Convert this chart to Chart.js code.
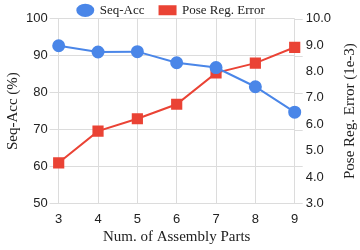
<!DOCTYPE html>
<html><head><meta charset="utf-8">
<script src="https://cdn.jsdelivr.net/npm/chart.js@4/dist/chart.umd.min.js"></script>
<style>html,body{margin:0;padding:0;background:#fff}#w{width:360px;height:250px}</style>
</head><body><div id="w"><canvas id="c"></canvas></div>
<script>
const parts = [3, 4, 5, 6, 7, 8, 9];
const seqAcc = [92.7, 91.0, 91.1, 88.1, 86.8, 81.6, 74.7];
const poseErr = [4.54, 5.74, 6.21, 6.76, 7.95, 8.32, 8.92];
const leftTicks = [50, 60, 70, 80, 90, 100];
const rightTicks = [3, 4, 5, 6, 7, 8, 9, 10];
const rightTitle = 'Pose Reg. Error (1e-3)';
const BLUE = '#4a86e8', RED = '#ea4335', GRID = '#dcdcdc';
const serif = "'Liberation Serif', serif";
const sans = "'Liberation Sans', Arial, sans-serif";
const rightTitlePlugin = {
  id: 'rightTitle',
  beforeDatasetsDraw(chart) {
    // left-axis gridlines continue a little past the right edge of the plot
    const ctx = chart.ctx, a = chart.chartArea, y = chart.scales.y;
    ctx.save();
    ctx.strokeStyle = GRID; ctx.lineWidth = 1;
    y.ticks.forEach(t => {
      const py = Math.round(y.getPixelForValue(t.value)) + 0.5;
      ctx.beginPath(); ctx.moveTo(a.right, py); ctx.lineTo(a.right + 8, py); ctx.stroke();
    });
    ctx.restore();
  },
  afterDraw(chart) {
    const ctx = chart.ctx, a = chart.chartArea;
    ctx.save();
    ctx.translate(chart.width - 10, (a.top + a.bottom) / 2);
    ctx.rotate(-Math.PI / 2);
    ctx.textAlign = 'center';
    ctx.textBaseline = 'middle';
    ctx.fillStyle = '#222';
    ctx.font = "15px 'Liberation Serif', serif";
    ctx.fillText(rightTitle, 0, 0);
    ctx.restore();
  }
};
// legend overlays the top margin (does not push the plot area down)
const legendOverlay = {
  id: 'legendOverlay',
  afterLayout(chart) {
    const lg = chart.legend;
    if (lg) { lg.top -= 13; lg.bottom -= 13; }
  }
};
const chart = new Chart(document.getElementById('c'), {
  type: 'line',
  data: {
    labels: parts,
    datasets: [
      {label: 'Seq-Acc', data: seqAcc, yAxisID: 'y', borderColor: BLUE, backgroundColor: BLUE,
       pointStyle: 'circle', pointRadius: 5.5, borderWidth: 2},
      {label: 'Pose Reg. Error', data: poseErr, yAxisID: 'y1', borderColor: RED, backgroundColor: RED,
       pointStyle: 'rect', pointRadius: 6.5, borderWidth: 2}
    ]
  },
  plugins: [rightTitlePlugin, legendOverlay],
  options: {
    responsive: true, maintainAspectRatio: false, animation: false,
    layout: {padding: {top: 0, right: 18, left: 0, bottom: 0}},
    plugins: {
      legend: {position: 'top', labels: {usePointStyle: true, pointStyleWidth: 16, boxWidth: 8, boxHeight: 8, padding: 15,
        color: '#222', font: {family: serif, size: 13}}},
      tooltip: {enabled: false}
    },
    scales: {
      x: {offset: false, grid: {color: GRID, drawTicks: false, tickLength: 0}, border: {color: GRID},
        ticks: {color: '#222', font: {family: sans, size: 13}, padding: 8},
        title: {display: true, text: 'Num. of Assembly Parts', color: '#222', font: {family: serif, size: 15}, padding: {top: -7, bottom: 4}}},
      y: {position: 'left', min: 50, max: 100, afterBuildTicks: a => { a.ticks = leftTicks.map(v => ({value: v})); },
        grid: {color: GRID, tickLength: 9}, border: {color: GRID},
        ticks: {color: '#222', font: {family: sans, size: 13}, padding: 2},
        title: {display: true, text: 'Seq-Acc (%)', color: '#222', font: {family: serif, size: 15}, padding: {bottom: 2}}},
      y1: {position: 'right', min: 3, max: 10, afterBuildTicks: a => { a.ticks = rightTicks.map(v => ({value: v})); },
        grid: {display: false, drawTicks: false, tickLength: 0}, border: {display: false},
        ticks: {color: '#222', font: {family: sans, size: 13}, padding: 11, callback: v => v.toFixed(1)}}
    }
  }
});
const lg = chart.legend;
const origFit = lg.fit;
lg.fit = function () { origFit.call(this); this.height = 17; };
lg.draw = function () { if (this.options.display) this._draw(); };
chart.update();
</script></body></html>
